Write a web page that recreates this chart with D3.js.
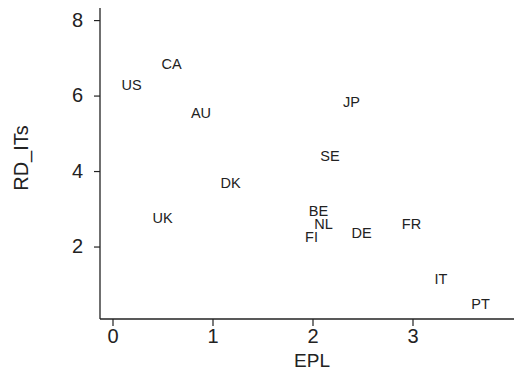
<!DOCTYPE html>
<html>
<head>
<meta charset="utf-8">
<script src="https://cdn.jsdelivr.net/npm/d3@7"></script>
<style>
    body { margin: 0; background: #fff; }
    text { font-family: "Liberation Sans", Arial, sans-serif; fill: #222; }
</style>
</head>
<body>
<div id="chart"></div>
<script>
// country codes with EPL (x) and RD_ITs (y)
const countries = ["US", "CA", "AU", "DK", "UK", "JP", "SE", "BE", "NL", "FI", "DE", "FR", "IT", "PT"];
const epl = [0.19, 0.59, 0.885, 1.18, 0.50, 2.39, 2.175, 2.06, 2.11, 1.99, 2.49, 2.99, 3.285, 3.68];
const rdIts = [6.28, 6.85, 5.55, 3.69, 2.77, 5.84, 4.40, 2.95, 2.60, 2.25, 2.36, 2.60, 1.14, 0.48];
const xTicks = [0, 1, 2, 3];
const yTicks = [2, 4, 6, 8];

const width = 514, height = 374;
const svg = d3.select("#chart").append("svg")
    .attr("width", width)
    .attr("height", height);

const x = d3.scaleLinear().domain([-0.125, 4.015]).range([100, 514]);
const y = d3.scaleLinear().domain([0.08, 8.32]).range([319, 8]);

const data = countries.map((c, i) => ({name: c, x: epl[i], y: rdIts[i]}));

// axes
const xAxis = svg.append("g")
    .attr("transform", "translate(0,319)")
    .call(d3.axisBottom(x).tickValues(xTicks).tickSize(7).tickPadding(3).tickFormat(d3.format("d")));
const yAxis = svg.append("g")
    .attr("transform", "translate(100,0)")
    .call(d3.axisLeft(y).tickValues(yTicks).tickSize(6).tickPadding(11).tickFormat(d3.format("d")));

[xAxis, yAxis].forEach(g => {
    g.select(".domain").attr("stroke", "#222").attr("stroke-width", 1.3);
    g.selectAll(".tick line").attr("stroke", "#222").attr("stroke-width", 1.2);
    g.selectAll(".tick text").style("font-size", "20px").attr("fill", "#222");
});
// remove outer ticks from domain path so axes are plain lines
xAxis.select(".domain").attr("d", `M${x.range()[0]},0H${x.range()[1]}`);
yAxis.select(".domain").attr("d", `M0,${y.range()[0]}V${y.range()[1]}`);

// labels as markers
svg.append("g")
    .selectAll("text")
    .data(data)
    .enter()
    .append("text")
    .attr("x", d => x(d.x))
    .attr("y", d => y(d.y))
    .attr("dy", "0.35em")
    .attr("text-anchor", "middle")
    .style("font-size", "14.5px")
    .text(d => d.name);

// axis titles
svg.append("text")
    .attr("x", 312)
    .attr("y", 366.5)
    .attr("text-anchor", "middle")
    .style("font-size", "19px")
    .text("EPL");

svg.append("text")
    .attr("transform", "translate(28,158) rotate(-90)")
    .attr("text-anchor", "middle")
    .style("font-size", "20px")
    .text("RD_ITs");
</script>
</body>
</html>
